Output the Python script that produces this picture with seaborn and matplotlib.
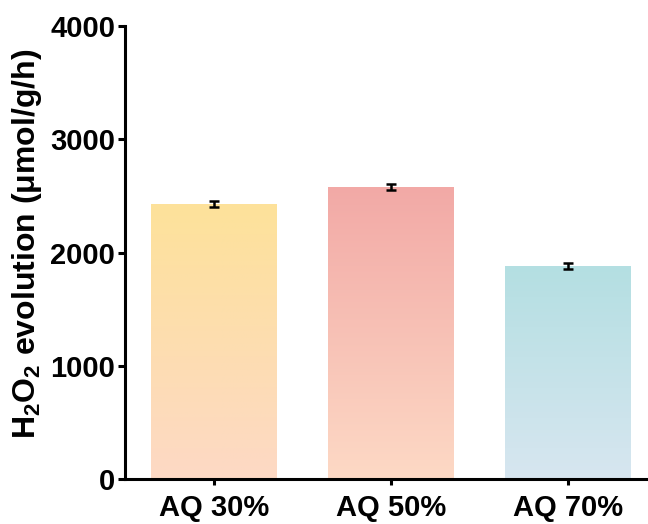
import numpy as np
import pandas as pd
import matplotlib
matplotlib.use("Agg")
import matplotlib.pyplot as plt
from matplotlib.colors import LinearSegmentedColormap
import seaborn as sns

# H2O2 production rates for the three AQ loadings
samples = ["AQ 30%", "AQ 50%", "AQ 70%"]
rates = [2430, 2580, 1880]
errors = [25, 30, 25]
# gradient colours per bar: (top, bottom)
top_colors = ["#FDE29A", "#F2A9A6", "#B4DFE2"]
bottom_colors = ["#FDD9C5", "#FDD9C5", "#D7E6F0"]

sns.set_theme(style="white")
plt.rcParams["font.family"] = ["Liberation Sans", "DejaVu Sans"]
plt.rcParams["font.weight"] = "bold"
plt.rcParams["text.color"] = "black"
plt.rcParams["axes.labelcolor"] = "black"
plt.rcParams["xtick.color"] = "black"
plt.rcParams["ytick.color"] = "black"
plt.rcParams["mathtext.fontset"] = "custom"
plt.rcParams["mathtext.rm"] = "Liberation Sans:bold"
plt.rcParams["mathtext.bf"] = "Liberation Sans:bold"
plt.rcParams["mathtext.default"] = "rm"

df = pd.DataFrame({"sample": samples, "rate": rates})

fig = plt.figure(figsize=(6.48, 5.24), dpi=100)
ax = fig.add_axes([0.193, 0.086, 0.812, 0.864])

sns.barplot(data=df, x="sample", y="rate", ax=ax, width=0.71,
            color="white", edgecolor="none", errorbar=None)

ax.set_xlim(-0.5, 2.47)
ax.set_ylim(0, 4000)

# fill each bar with a vertical gradient clipped to the bar rectangle
for patch, ctop, cbot in zip(ax.patches, top_colors, bottom_colors):
    x0, y0 = patch.get_x(), patch.get_y()
    w, h = patch.get_width(), patch.get_height()
    cmap = LinearSegmentedColormap.from_list("g", [cbot, ctop])
    grad = np.linspace(0, 1, 256).reshape(-1, 1)
    im = ax.imshow(grad, cmap=cmap, aspect="auto", origin="lower",
                   extent=[x0, x0 + w, y0, y0 + h], zorder=2)
    im.set_clip_path(patch)

centers = [p.get_x() + p.get_width() / 2 for p in ax.patches]
ax.errorbar(centers, rates, yerr=errors, fmt="none", ecolor="black",
            elinewidth=1.8, capsize=3.3, capthick=1.8, zorder=3)

ax.set_xlabel("")
ax.set_ylabel(r"H$_2$O$_2$ evolution (μmol/g/h)", fontsize=23,
              fontweight="bold")
ax.yaxis.set_label_coords(-0.155, 0.52)
ax.set_yticks([0, 1000, 2000, 3000, 4000])

for side in ["top", "right"]:
    ax.spines[side].set_visible(False)
for side in ["left", "bottom"]:
    ax.spines[side].set_linewidth(2.2)
    ax.spines[side].set_color("black")

ax.tick_params(axis="y", direction="out", length=5, width=2.2,
               labelsize=21, left=True, pad=2)
ax.tick_params(axis="x", direction="out", length=4, width=2.2,
               labelsize=21, bottom=True, pad=7)
for lab in ax.get_xticklabels() + ax.get_yticklabels():
    lab.set_fontweight("bold")

fig.savefig("out.png", dpi=100)
